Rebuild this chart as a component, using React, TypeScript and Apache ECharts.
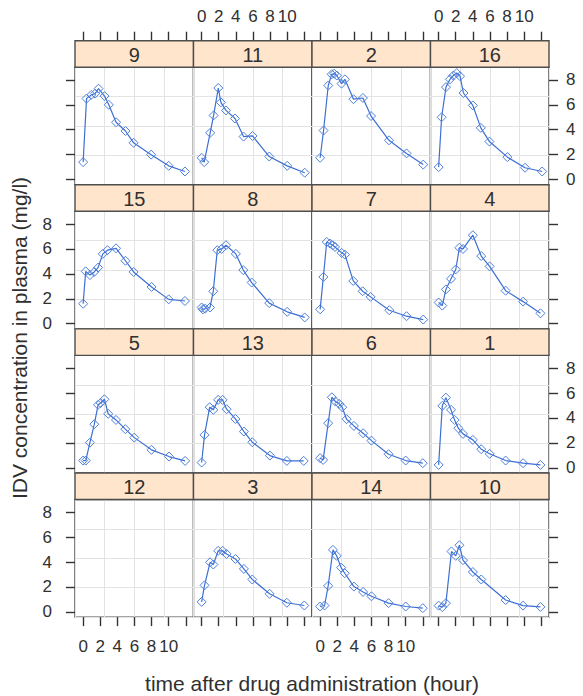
import React, { useEffect, useRef } from "react";
import * as echarts from "echarts";

// Panel order as laid out (left→right, top→bottom)
const panelOrder = [9, 11, 2, 16, 15, 8, 7, 4, 5, 13, 6, 1, 12, 3, 14, 10];

const xTickValues = [0, 2, 4, 6, 8, 10, 12];
const xLabelValues = [0, 2, 4, 6, 8, 10];
const yTickValues = [0, 2, 4, 6, 8];

const time9 = [0, 0.4, 0.95, 1.4, 1.8, 2.5, 3, 3.85, 4.95, 5.9, 7.95, 10, 11.9];
const conc9 = [1.4, 6.5, 6.8, 6.9, 7.3, 6.7, 6.0, 4.6, 3.9, 2.95, 2.0, 1.1, 0.65];

const time11 = [0, 0.3, 1, 1.4, 1.95, 2.25, 2.85, 3.9, 4.9, 5.95, 7.9, 10, 12.05];
const conc11 = [1.75, 1.4, 3.75, 5.15, 7.35, 6.2, 5.55, 4.9, 3.45, 3.5, 1.85, 1.1, 0.55];

const time2 = [0, 0.4, 0.95, 1.35, 1.65, 1.95, 2.5, 2.9, 3.9, 5, 5.95, 8.05, 10.1, 12.05];
const conc2 = [1.75, 3.94, 7.55, 8.45, 8.5, 8.35, 7.7, 8.05, 6.45, 6.55, 5.1, 3.15, 2.1, 1.2];

const time16 = [0, 0.35, 0.86, 1.33, 1.72, 2.12, 2.5, 2.9, 4, 4.93, 5.94, 8.04, 10.1, 12.1];
const conc16 = [1.0, 5.0, 7.42, 8.05, 8.35, 8.55, 8.3, 6.95, 5.95, 4.15, 3.05, 1.8, 0.95, 0.65];

const time15 = [0, 0.3, 0.8, 1.3, 1.75, 2.3, 2.85, 3.85, 4.95, 5.9, 8, 10, 11.9];
const conc15 = [1.6, 4.2, 3.9, 4.15, 4.5, 5.6, 5.9, 6.05, 5.05, 4.15, 2.95, 1.95, 1.82];

const time8 = [0, 0.15, 0.4, 0.98, 1.36, 1.83, 2.34, 2.85, 4, 4.87, 5.85, 7.9, 10, 12.05];
const conc8 = [1.3, 1.15, 1.2, 1.3, 2.6, 5.9, 6.0, 6.3, 5.6, 4.3, 3.3, 1.65, 0.95, 0.5];

const time7 = [0, 0.38, 0.77, 1.15, 1.47, 1.74, 2.52, 2.9, 3.87, 4.97, 5.9, 8.08, 10.1, 12.05];
const conc7 = [1.15, 3.75, 6.56, 6.43, 6.29, 6.16, 5.68, 5.54, 3.43, 2.6, 2.15, 1.08, 0.6, 0.33];

const time4 = [0, 0.43, 0.85, 1.45, 2.0, 2.43, 2.85, 4.0, 4.98, 5.96, 7.83, 9.87, 11.9];
const conc4 = [1.7, 1.45, 2.75, 3.6, 4.35, 6.1, 6.0, 7.1, 5.43, 4.6, 2.65, 1.77, 0.83];

const time5 = [0, 0.31, 0.79, 1.31, 1.75, 2.05, 2.49, 2.93, 3.84, 4.93, 5.98, 7.99, 10.04, 11.92];
const conc5 = [0.58, 0.58, 2.02, 3.5, 5.05, 5.2, 5.5, 4.33, 3.84, 3.1, 2.42, 1.44, 0.9, 0.55];

const time13 = [0, 0.34, 0.94, 1.37, 1.93, 2.45, 2.92, 3.95, 4.94, 5.92, 7.98, 9.96, 11.93];
const conc13 = [0.42, 2.64, 4.86, 4.65, 5.45, 5.45, 4.7, 3.92, 2.91, 2.05, 0.98, 0.55, 0.55];

const time6 = [0, 0.35, 0.94, 1.37, 1.8, 2.23, 2.58, 3.09, 3.95, 5.02, 6.0, 8.0, 10.0, 12.0];
const conc6 = [0.77, 0.63, 3.58, 5.66, 5.31, 5.13, 4.86, 3.9, 3.36, 2.77, 2.18, 1.09, 0.58, 0.37];

const time1 = [0, 0.43, 0.85, 1.45, 1.87, 2.3, 2.85, 4.0, 4.98, 5.96, 7.83, 9.87, 11.9];
const conc1 = [0.23, 4.97, 5.63, 4.65, 3.84, 3.18, 2.72, 2.24, 1.49, 1.12, 0.58, 0.37, 0.23];

const time12: number[] = [];
const conc12: number[] = [];

const time3 = [0, 0.34, 0.99, 1.37, 1.93, 2.45, 2.92, 3.95, 4.94, 5.92, 7.94, 9.96, 12.0];
const conc3 = [0.8, 2.13, 3.98, 3.8, 4.9, 4.9, 4.65, 4.25, 3.45, 2.6, 1.45, 0.73, 0.51];

const time14 = [0, 0.52, 0.94, 1.5, 1.93, 2.45, 2.88, 3.95, 5.02, 6.0, 8, 10, 12];
const conc14 = [0.43, 0.51, 2.09, 4.98, 4.5, 3.55, 3.1, 2.03, 1.6, 1.25, 0.7, 0.43, 0.3];

const time10 = [0, 0.43, 0.85, 1.5, 2.0, 2.43, 2.85, 4.0, 4.98, 7.83, 9.87, 11.9];
const conc10 = [0.5, 0.38, 0.7, 4.85, 4.5, 5.35, 4.15, 3.2, 2.6, 0.95, 0.5, 0.4];

const subjectData: Record<number, [number[], number[]]> = {
  9: [time9, conc9], 11: [time11, conc11], 2: [time2, conc2], 16: [time16, conc16],
  15: [time15, conc15], 8: [time8, conc8], 7: [time7, conc7], 4: [time4, conc4],
  5: [time5, conc5], 13: [time13, conc13], 6: [time6, conc6], 1: [time1, conc1],
  12: [time12, conc12], 3: [time3, conc3], 14: [time14, conc14], 10: [time10, conc10],
};

const xTitle = "time after drug administration (hour)";
const yTitle = "IDV concentration in plasma (mg/l)";

// Layout
const W = 583, H = 696;
const LEFT = 75, STRIP_TOP = 40.7, PW = 118.5, PH = 117.6, SH = 26.5;
const ROW_PITCH = PH + SH;
const X_MIN = -0.95, X_MAX = 12.9, Y_MIN = -0.42, Y_MAX = 9.02;

const FONT = "'Liberation Sans', Arial, sans-serif";
const TXT = "#303030";
const BORDER = "#4d4d4d";
const LINE = "#3d6fd3";

export default function App() {
  const ref = useRef<HTMLDivElement>(null);
  useEffect(() => {
    if (!ref.current) return;
    const chart = echarts.init(ref.current, undefined, { renderer: "svg" });
    const grids: any[] = [];
    const xAxes: any[] = [];
    const yAxes: any[] = [];
    const gxAxes: any[] = [];
    const gyAxes: any[] = [];
    const series: any[] = [];
    const graphics: any[] = [];
    const tickStyle = { color: "#333", width: 1.4 };
    const labelStyle = { fontSize: 17, color: TXT, fontFamily: FONT };

    panelOrder.forEach((id, i) => {
      const r = Math.floor(i / 4);
      const c = i % 4;
      const left = LEFT + c * PW;
      const top = STRIP_TOP + r * ROW_PITCH + SH;
      grids.push({
        left, top, width: PW, height: PH,
        show: true, borderColor: BORDER, borderWidth: 1.4, backgroundColor: "#fff",
        containLabel: false,
      });
      const xTicksShow = r === 0 || r === 3;
      const xLabShow = (r === 0 && c % 2 === 1) || (r === 3 && c % 2 === 0);
      xAxes.push({
        gridIndex: i, type: "value", min: X_MIN, max: X_MAX,
        position: r === 0 ? "top" : "bottom",
        offset: r === 0 ? SH : 0,
        axisLine: { show: false, onZero: false },
        axisTick: { show: xTicksShow, customValues: xTickValues, length: 9, inside: false, lineStyle: tickStyle },
        axisLabel: { show: xLabShow, customValues: xLabelValues, margin: r === 0 ? 16 : 21, ...labelStyle },
        splitLine: { show: false },
      });
      const yTicksShow = c === 0 || c === 3;
      const yLabShow = (c === 0 && r % 2 === 1) || (c === 3 && r % 2 === 0);
      yAxes.push({
        gridIndex: i, type: "value", min: Y_MIN, max: Y_MAX,
        position: c === 3 ? "right" : "left",
        axisLine: { show: false, onZero: false },
        axisTick: { show: yTicksShow, customValues: yTickValues, length: 9, inside: false, lineStyle: tickStyle },
        axisLabel: { show: yLabShow, customValues: yTickValues, margin: c === 0 ? 23 : 17, ...labelStyle },
        splitLine: { show: false },
      });
      gxAxes.push({
        gridIndex: i, type: "value", min: 0, max: 4, interval: 1, position: "bottom",
        axisLine: { show: false, onZero: false }, axisTick: { show: false }, axisLabel: { show: false },
        splitLine: { show: true, lineStyle: { color: "#e3e3e3", width: 1 } },
      });
      gyAxes.push({
        gridIndex: i, type: "value", min: 0, max: 4, interval: 1, position: "left",
        axisLine: { show: false, onZero: false }, axisTick: { show: false }, axisLabel: { show: false },
        splitLine: { show: true, lineStyle: { color: "#e3e3e3", width: 1 } },
      });
      const [t, cc] = subjectData[id];
      series.push({
        type: "line", name: String(id), xAxisIndex: i, yAxisIndex: i,
        data: t.map((x, k) => [x, cc[k]]),
        symbol: "diamond", symbolSize: 9,
        lineStyle: { color: LINE, width: 1.2 },
        itemStyle: { color: "rgba(255,255,255,0)", borderColor: "#4d7fdc", borderWidth: 1 },
        z: 5,
      });
      // strip
      graphics.push({
        type: "rect",
        shape: { x: left, y: STRIP_TOP + r * ROW_PITCH, width: PW, height: SH },
        style: { fill: "#ffe5cc", stroke: BORDER, lineWidth: 1.4 },
        z: 10,
      });
      graphics.push({
        type: "text",
        x: left + PW / 2, y: STRIP_TOP + r * ROW_PITCH + SH / 2 + 1,
        style: { text: String(id), fill: TXT, font: `20px ${FONT}`, textAlign: "center", textVerticalAlign: "middle" },
        z: 11,
      });
    });

    graphics.push({
      type: "text", x: LEFT + 2 * PW, y: 683,
      style: { text: xTitle, fill: TXT, font: `21px ${FONT}`, textAlign: "center", textVerticalAlign: "middle" },
    });
    graphics.push({
      type: "text", x: 19, y: 338, rotation: Math.PI / 2,
      style: { text: yTitle, fill: TXT, font: `21px ${FONT}`, textAlign: "center", textVerticalAlign: "middle" },
    });

    chart.setOption({
      animation: false,
      backgroundColor: "#fff",
      grid: grids,
      xAxis: [...xAxes, ...gxAxes],
      yAxis: [...yAxes, ...gyAxes],
      series,
      graphic: graphics,
    });
    return () => chart.dispose();
  }, []);
  return (
    <div
      ref={ref}
      style={{ position: "absolute", left: 0, top: 0, width: W, height: H, background: "#fff" }}
    />
  );
}
